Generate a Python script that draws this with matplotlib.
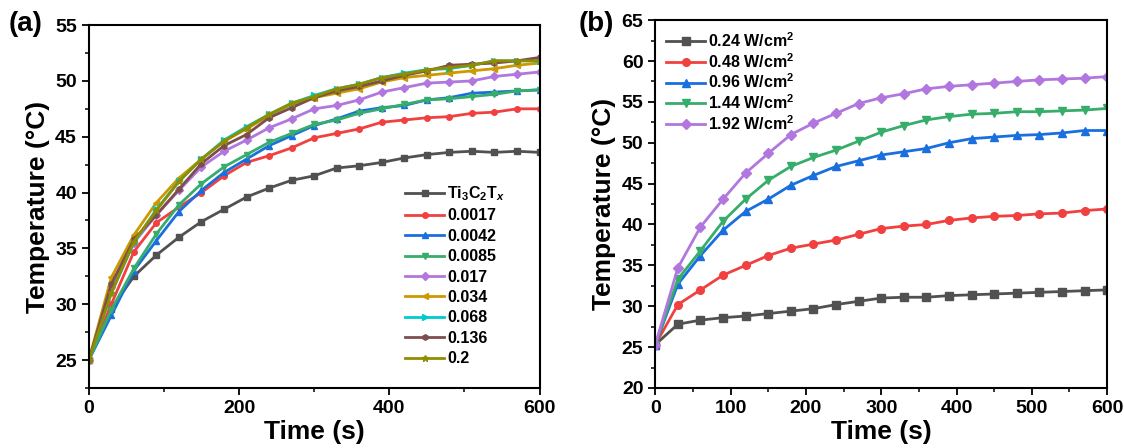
import numpy as np
import matplotlib.pyplot as plt

plt.rcParams['font.family'] = ['Liberation Sans', 'DejaVu Sans']
plt.rcParams['font.weight'] = 'bold'
plt.rcParams['mathtext.fontset'] = 'custom'
plt.rcParams['mathtext.rm'] = 'Liberation Sans:bold'
plt.rcParams['mathtext.bf'] = 'Liberation Sans:bold'
plt.rcParams['mathtext.it'] = 'Liberation Sans:bold:italic'

time = np.arange(0, 601, 30)

# panel (a): concentration series
labels_a = [r'Ti$_3$C$_2$T$_x$', '0.0017', '0.0042', '0.0085', '0.017',
            '0.034', '0.068', '0.136', '0.2']
ti3c2tx = [25, 29.6, 32.5, 34.4, 36, 37.4, 38.5, 39.6, 40.4, 41.1, 41.5,
           42.2, 42.4, 42.7, 43.1, 43.4, 43.6, 43.7, 43.6, 43.7, 43.6]
c0017 = [25, 30, 34.7, 37.3, 38.7, 40, 41.5, 42.7, 43.3, 44, 44.9,
         45.3, 45.7, 46.3, 46.5, 46.7, 46.8, 47.1, 47.2, 47.5, 47.5]
c0042 = [25, 29, 33, 35.7, 38.3, 40.2, 41.8, 43, 44.2, 45.1, 46,
         46.6, 47.3, 47.6, 47.8, 48.3, 48.5, 48.9, 49, 49.1, 49.2]
c0085 = [25, 29.5, 33.2, 36.3, 38.9, 40.8, 42.3, 43.4, 44.5, 45.3, 46.1,
         46.5, 47.1, 47.5, 47.9, 48.3, 48.4, 48.6, 48.8, 49.1, 49.2]
c017 = [25, 31.5, 35.5, 38, 40.2, 42.3, 43.7, 44.7, 45.8, 46.6, 47.5,
        47.8, 48.3, 49, 49.4, 49.8, 49.9, 50, 50.4, 50.6, 50.8]
c034 = [25, 32.4, 36.2, 39.1, 41.3, 43, 44.6, 45.7, 46.9, 47.9, 48.5,
        48.9, 49.3, 49.9, 50.3, 50.5, 50.7, 50.9, 51.1, 51.4, 51.6]
c068 = [25, 31, 35.5, 38.5, 41, 43, 44.7, 45.9, 47, 48, 48.7,
        49.3, 49.7, 50.3, 50.7, 51, 51.1, 51.4, 51.8, 51.8, 51.8]
c136 = [25, 31.8, 35.8, 38, 40.3, 42.6, 44.2, 45.2, 46.7, 47.6, 48.5,
        49.1, 49.5, 50, 50.5, 50.9, 51.4, 51.5, 51.6, 51.8, 52.1]
c02 = [25, 31, 35.6, 38.4, 41, 43, 44.6, 45.8, 47, 48, 48.6,
       49.3, 49.7, 50.3, 50.6, 51, 51.2, 51.4, 51.8, 51.8, 51.8]
series_a = [ti3c2tx, c0017, c0042, c0085, c017, c034, c068, c136, c02]

# panel (b): power density series
labels_b = [r'0.24 W/cm$^2$', r'0.48 W/cm$^2$', r'0.96 W/cm$^2$',
            r'1.44 W/cm$^2$', r'1.92 W/cm$^2$']
p024 = [25.3, 27.8, 28.3, 28.6, 28.8, 29.1, 29.4, 29.7, 30.2, 30.6, 31,
        31.1, 31.1, 31.3, 31.4, 31.5, 31.6, 31.7, 31.8, 31.9, 32]
p048 = [25.3, 30.2, 32, 33.8, 35, 36.2, 37.1, 37.6, 38.1, 38.8, 39.5,
        39.8, 40, 40.5, 40.8, 41, 41.1, 41.3, 41.4, 41.7, 41.9]
p096 = [25.3, 32.7, 36.2, 39.3, 41.6, 43.1, 44.8, 46, 47.1, 47.8, 48.5,
        48.9, 49.3, 50, 50.5, 50.7, 50.9, 51, 51.2, 51.5, 51.5]
p144 = [25.3, 33.3, 36.8, 40.4, 43.1, 45.4, 47.1, 48.2, 49.1, 50.2, 51.3,
        52.1, 52.8, 53.2, 53.5, 53.6, 53.8, 53.8, 53.9, 54, 54.2]
p192 = [25.3, 34.7, 39.7, 43.1, 46.3, 48.7, 51, 52.4, 53.6, 54.8, 55.5,
        56, 56.6, 56.9, 57.1, 57.3, 57.5, 57.7, 57.8, 57.9, 58.1]
series_b = [p024, p048, p096, p144, p192]

colors = ['#515151', '#F14040', '#1A6FDF', '#37AD6B', '#B177DE',
          '#CC9900', '#00CBCC', '#7D4E4E', '#8E8E00']
markers = ['s', 'o', '^', 'v', 'D', '<', '>', 'h', '*']

fig = plt.figure(figsize=(11.24, 4.48), dpi=100)
ax1 = fig.add_axes([0.079, 0.134, 0.401, 0.810])
ax2 = fig.add_axes([0.583, 0.134, 0.402, 0.821])

for i, y in enumerate(series_a):
    ms = 4 if markers[i] != '*' else 5
    ax1.plot(time, y, color=colors[i], marker=markers[i], ms=ms, lw=2,
             label=labels_a[i])
for i, y in enumerate(series_b):
    ax2.plot(time, y, color=colors[i], marker=markers[i], ms=5.5, lw=2,
             label=labels_b[i])

ax1.set_xlim(0, 600)
ax1.set_ylim(22.5, 55)
ax1.set_yticks(np.arange(25, 56, 5))
ax1.set_yticks(np.arange(22.5, 55.1, 2.5), minor=True)
ax2.set_xlim(0, 600)
ax2.set_ylim(20, 65)
ax2.set_yticks(np.arange(20, 66, 5))
ax2.set_yticks(np.arange(20, 65.1, 2.5), minor=True)
ax1.set_xticks([0, 200, 400, 600])
ax1.set_xticks(np.arange(0, 601, 100), minor=True)
ax2.set_xticks(np.arange(0, 601, 100))
ax2.set_xticks(np.arange(0, 601, 50), minor=True)

for ax in (ax1, ax2):
    ax.tick_params(which='major', length=5, width=1.3, labelsize=14, direction='out')
    ax.tick_params(which='minor', length=3, width=1.1, direction='out')
    for sp in ax.spines.values():
        sp.set_linewidth(1.5)
    ax.set_xlabel('Time (s)', fontsize=19, fontweight='bold', labelpad=2)
    ax.set_ylabel('Temperature (°C)', fontsize=19, fontweight='bold', labelpad=4)

ax1.legend(loc='lower right', frameon=False, fontsize=11.5, handlelength=2.4,
           handletextpad=0.2, labelspacing=0.34, bbox_to_anchor=(0.955, 0.02))
ax2.legend(loc='upper left', frameon=False, fontsize=11.5, handlelength=2.4,
           handletextpad=0.2, labelspacing=0.12, borderaxespad=0.3)

fig.text(0.008, 0.93, '(a)', fontsize=20, fontweight='bold')
fig.text(0.515, 0.93, '(b)', fontsize=20, fontweight='bold')

fig.savefig('out.png', dpi=100)
